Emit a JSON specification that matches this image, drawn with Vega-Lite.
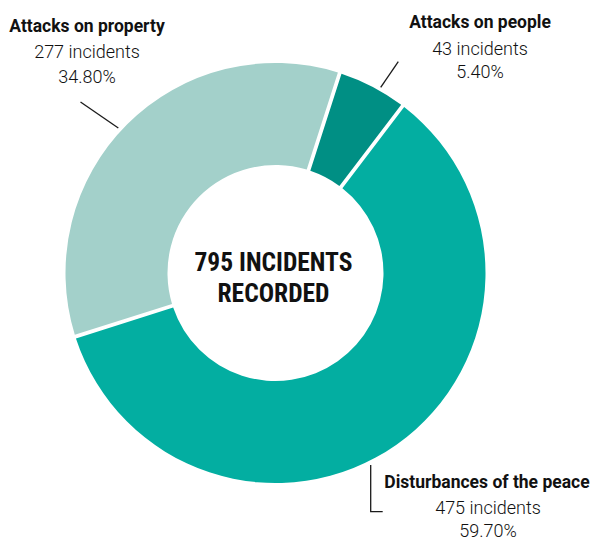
{
  "$schema": "https://vega.github.io/schema/vega-lite/v6.json",
  "width": 551,
  "height": 534,
  "autosize": {"type": "none"},
  "padding": {"left": 0, "top": 6, "right": 46, "bottom": 0},
  "background": "white",
  "config": {"view": {"stroke": null}},
  "datasets": {
    "slices": [
      {"category": "Attacks on people", "count": 43, "ord": 1},
      {"category": "Disturbances of the peace", "count": 475, "ord": 2},
      {"category": "Attacks on property", "count": 277, "ord": 3}
    ],
    "labels": [
      {"kind": "name", "text": "Attacks on property", "x": -1.885, "y": 2.41},
      {"kind": "detail", "text": "277 incidents", "x": -1.885, "y": 2.15},
      {"kind": "detail", "text": "34.80%", "x": -1.885, "y": 1.9},
      {"kind": "name", "text": "Attacks on people", "x": 2.045, "y": 2.453},
      {"kind": "detail", "text": "43 incidents", "x": 2.045, "y": 2.18},
      {"kind": "detail", "text": "5.40%", "x": 2.045, "y": 1.95},
      {"kind": "name", "text": "Disturbances of the peace", "x": 2.115, "y": -2.153},
      {"kind": "detail", "text": "475 incidents", "x": 2.125, "y": -2.405},
      {"kind": "detail", "text": "59.70%", "x": 2.125, "y": -2.64},
      {"kind": "center", "text": "795 INCIDENTS", "x": -0.02, "y": 0.023},
      {"kind": "center", "text": "RECORDED", "x": -0.02, "y": -0.287}
    ],
    "leaders": [
      {"group": "property", "pt": 1, "x": -1.95, "y": 1.71},
      {"group": "property", "pt": 2, "x": -1.572, "y": 1.45},
      {"group": "people", "pt": 1, "x": 1.228, "y": 2.113},
      {"group": "people", "pt": 2, "x": 1.052, "y": 1.857},
      {"group": "peace", "pt": 1, "x": 0.952, "y": -1.92},
      {"group": "peace", "pt": 2, "x": 0.952, "y": -2.387},
      {"group": "peace", "pt": 3, "x": 1.072, "y": -2.387}
    ]
  },
  "layer": [
    {
      "data": {"name": "slices"},
      "mark": {"type": "arc", "innerRadius": 108, "outerRadius": 210, "padAngle": 0.016},
      "encoding": {
        "theta": {"field": "count", "type": "quantitative", "stack": true, "scale": {"range": [0.3107, 6.5939]}},
        "order": {"field": "ord", "type": "quantitative"},
        "color": {
          "field": "category",
          "type": "nominal",
          "scale": {
            "domain": ["Attacks on people", "Disturbances of the peace", "Attacks on property"],
            "range": ["#008f84", "#03aea1", "#a3d0ca"]
          },
          "legend": null
        }
      }
    },
    {
      "data": {"name": "leaders"},
      "mark": {"type": "line", "color": "#1a1a1a", "strokeWidth": 1.3},
      "encoding": {
        "x": {"field": "x", "type": "quantitative", "scale": {"domain": [-2.755, 2.755]}, "axis": null},
        "y": {"field": "y", "type": "quantitative", "scale": {"domain": [-2.67, 2.67]}, "axis": null},
        "detail": {"field": "group", "type": "nominal"},
        "order": {"field": "pt", "type": "quantitative"}
      }
    },
    {
      "data": {"name": "labels"},
      "transform": [{"filter": "datum.kind == 'name'"}],
      "mark": {"type": "text", "font": "Roboto", "fontWeight": "bold", "fontSize": 17.5, "color": "#111111", "align": "center", "baseline": "alphabetic"},
      "encoding": {
        "x": {"field": "x", "type": "quantitative", "scale": {"domain": [-2.755, 2.755]}, "axis": null},
        "y": {"field": "y", "type": "quantitative", "scale": {"domain": [-2.67, 2.67]}, "axis": null},
        "text": {"field": "text"}
      }
    },
    {
      "data": {"name": "labels"},
      "transform": [{"filter": "datum.kind == 'detail'"}],
      "mark": {"type": "text", "font": "Roboto", "fontWeight": 300, "fontSize": 18, "color": "#111111", "align": "center", "baseline": "alphabetic"},
      "encoding": {
        "x": {"field": "x", "type": "quantitative", "scale": {"domain": [-2.755, 2.755]}, "axis": null},
        "y": {"field": "y", "type": "quantitative", "scale": {"domain": [-2.67, 2.67]}, "axis": null},
        "text": {"field": "text"}
      }
    },
    {
      "data": {"name": "labels"},
      "transform": [{"filter": "datum.kind == 'center'"}],
      "mark": {"type": "text", "font": "Liberation Sans Narrow, Roboto Condensed, Roboto", "fontWeight": "bold", "fontSize": 25.5, "color": "#111111", "align": "center", "baseline": "alphabetic"},
      "encoding": {
        "x": {"field": "x", "type": "quantitative", "scale": {"domain": [-2.755, 2.755]}, "axis": null},
        "y": {"field": "y", "type": "quantitative", "scale": {"domain": [-2.67, 2.67]}, "axis": null},
        "text": {"field": "text"}
      }
    }
  ]
}
